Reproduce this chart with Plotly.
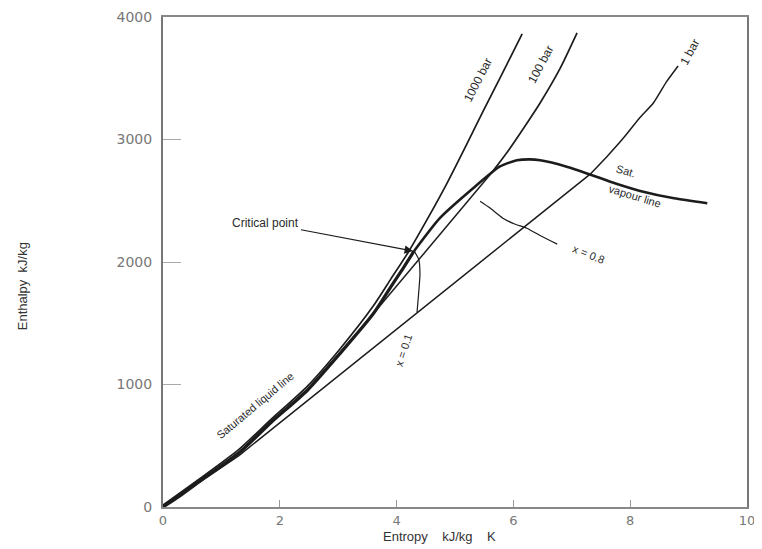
import plotly.graph_objects as go

# ---- data (entropy s in kJ/kg K, enthalpy h in kJ/kg) ----
sat_liq_s = [0, 0.30, 0.70, 1.30, 1.85, 2.47, 3.03, 3.60, 3.89, 4.10, 4.30]
sat_liq_h = [0, 95, 235, 440, 690, 951, 1252, 1577, 1789, 1940, 2090]

sat_vap_s = [4.30, 4.74, 5.31, 5.77, 6.06, 6.28, 6.46, 6.90, 7.31, 7.75, 8.17, 8.75, 9.32]
sat_vap_h = [2090, 2358, 2602, 2780, 2830, 2838, 2830, 2780, 2715, 2640, 2580, 2520, 2480]

p1_s = [0, 0.70, 1.30, 7.31, 7.60, 7.88, 8.15, 8.40, 8.62, 8.82]
p1_h = [0, 225, 420, 2715, 2860, 3010, 3170, 3300, 3470, 3600]

p100_s = [0, 0.70, 1.30, 1.85, 2.47, 3.03, 3.36, 5.62, 5.90, 6.20, 6.46, 6.80, 7.09]
p100_h = [8, 242, 450, 700, 962, 1262, 1440, 2724, 2900, 3110, 3300, 3580, 3870]

p1000_s = [0, 0.70, 1.30, 1.85, 2.47, 3.03, 3.60, 3.90, 4.20, 4.55, 4.86, 5.20, 5.48, 5.80, 6.15]
p1000_h = [15, 255, 470, 715, 985, 1290, 1640, 1860, 2080, 2370, 2640, 2960, 3230, 3530, 3862]

x01_s = [4.30, 4.38, 4.40, 4.38, 4.35]
x01_h = [2090, 2020, 1900, 1760, 1590]

x08_s = [5.43, 5.60, 5.82, 6.02, 6.23, 6.48, 6.75]
x08_h = [2496, 2440, 2358, 2310, 2276, 2210, 2146]

crit_s, crit_h = 4.28, 2089

x_ticks = [0, 2, 4, 6, 8, 10]
y_ticks = [0, 1000, 2000, 3000, 4000]

INK = "#1c1c1c"
fig = go.Figure()

def line(xs, ys, w):
    fig.add_trace(go.Scatter(x=xs, y=ys, mode="lines", line=dict(color=INK, width=w, shape="spline", smoothing=0.6),
                             showlegend=False, hoverinfo="skip"))

def straight(xs, ys, w):
    fig.add_trace(go.Scatter(x=xs, y=ys, mode="lines", line=dict(color=INK, width=w),
                             showlegend=False, hoverinfo="skip"))

straight(p1_s[:4], p1_h[:4], 1.5)
line(p1_s[3:], p1_h[3:], 1.5)
line(p100_s[:7], p100_h[:7], 1.5)
straight(p100_s[6:8], p100_h[6:8], 1.5)
line(p100_s[7:], p100_h[7:], 1.7)
line(p1000_s, p1000_h, 1.7)
line(x01_s, x01_h, 1.2)
line(x08_s, x08_h, 1.2)
line(sat_liq_s, sat_liq_h, 3.2)
line(sat_vap_s, sat_vap_h, 2.6)

FONT = "Liberation Sans"
ann = []

def label(x, y, text, angle=0, size=11):
    ann.append(dict(x=x, y=y, xref="x", yref="y", text=text, showarrow=False, textangle=angle,
                    xanchor="center", yanchor="middle",
                    font=dict(family=FONT, size=size, color="#2a2a2a")))

label(1.59, 829, "Saturated liquid line", -40, 11)
label(5.39, 3488, "1000 bar", -63, 12)
label(6.47, 3618, "100 bar", -62, 12)
label(9.02, 3715, "1 bar", -62, 12)
label(7.93, 2740, "Sat.", 17, 11)
label(8.08, 2537, "vapour line", 17, 11)
label(4.11, 1276, "x = 0.1", -72, 11)
label(7.28, 2065, "x = 0.8", 22, 11)

ann.append(dict(x=crit_s, y=crit_h, xref="x", yref="y", text="Critical point", showarrow=True,
                ax=-147, ay=-28, arrowhead=2, arrowsize=1.4, arrowwidth=1.2, arrowcolor=INK,
                font=dict(family=FONT, size=12, color="#2a2a2a")))

ann.append(dict(x=-0.241, y=0.451, xref="paper", yref="paper", text="Enthalpy  kJ/kg", showarrow=False,
                xanchor="center", yanchor="middle",
                textangle=-90, font=dict(family=FONT, size=13, color="#333")))
ann.append(dict(x=0.474, y=-0.061, xref="paper", yref="paper",
                text="Entropy\u00a0\u00a0\u00a0\u00a0kJ/kg\u00a0\u00a0\u00a0\u00a0K", showarrow=False,
                xanchor="center", yanchor="middle",
                font=dict(family=FONT, size=13, color="#333")))

# the page body keeps an 8px default margin; size the figure so it ends at the window's edge
fig.update_layout(
    width=754, height=541, autosize=False,
    margin=dict(l=155, r=15, t=9, b=42, autoexpand=False),
    paper_bgcolor="white", plot_bgcolor="white",
    annotations=ann,
    xaxis=dict(range=[0, 10], tickvals=x_ticks, ticks="inside", ticklen=7, tickcolor="#999",
               showgrid=False, zeroline=False, showline=True, linecolor="#888", linewidth=2, mirror=True,
               automargin=False, ticklabeloverflow="allow",
               tickfont=dict(family="DejaVu Sans", size=13, color="#777")),
    yaxis=dict(range=[0, 4000], tickvals=y_ticks, ticks="inside", ticklen=18, tickcolor="#aaa",
               showgrid=False, zeroline=False, showline=True, linecolor="#777", linewidth=2, mirror=True,
               ticklabelstandoff=6, automargin=False, ticklabeloverflow="allow",
               tickfont=dict(family="DejaVu Sans", size=14, color="#777")),
)

fig.write_html("out.html")
